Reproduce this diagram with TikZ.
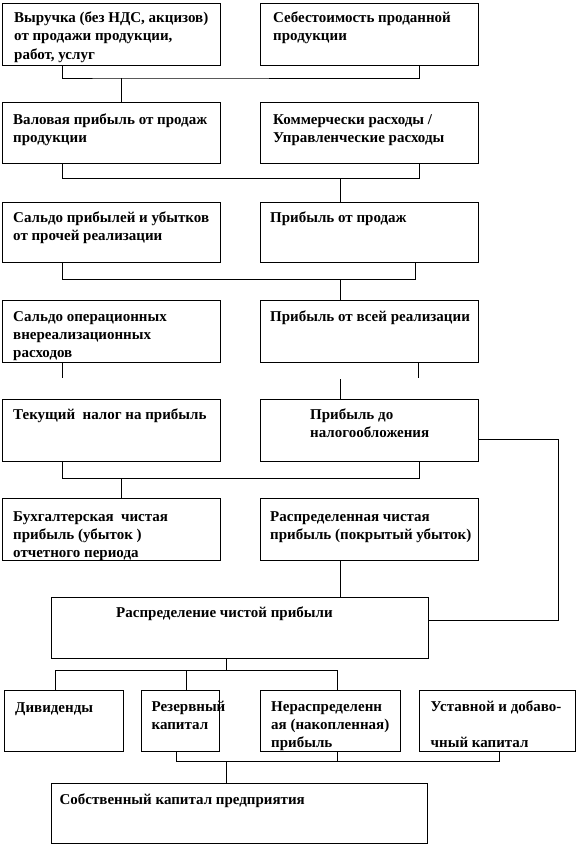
\documentclass[tikz,border=0pt]{standalone}
\usepackage{fontspec}
\setmainfont{Liberation Serif}
\begin{document}
\begin{tikzpicture}[x=1pt,y=-1pt,
  box/.style={draw, line width=1pt, inner sep=0pt, outer sep=0pt, anchor=north west},
  txt/.style={font=\bfseries\fontsize{15}{18.3}\selectfont, inner sep=0pt, anchor=base west, align=left},
  conn/.style={line width=1pt}]
\useasboundingbox (0,0) rectangle (582,846);
% boxes
\node[box, minimum width=218pt, minimum height=62pt] (A) at (2,3) {};
\node[box, minimum width=218pt, minimum height=62pt] (B) at (260.5,3) {};
\node[box, minimum width=218pt, minimum height=61pt] (C) at (2,102) {};
\node[box, minimum width=218pt, minimum height=61pt] (D) at (260.5,102) {};
\node[box, minimum width=218pt, minimum height=60pt] (E) at (2,202) {};
\node[box, minimum width=218pt, minimum height=60pt] (F) at (260.5,202) {};
\node[box, minimum width=218pt, minimum height=62pt] (G) at (2,300) {};
\node[box, minimum width=218pt, minimum height=62pt] (H) at (260.5,300) {};
\node[box, minimum width=218pt, minimum height=62pt] (I) at (2,399) {};
\node[box, minimum width=218pt, minimum height=62pt] (J) at (260.5,399) {};
\node[box, minimum width=218pt, minimum height=62pt] (L) at (2,498) {};
\node[box, minimum width=218pt, minimum height=62pt] (M) at (260.5,498) {};
\node[box, minimum width=377pt, minimum height=61pt] (K) at (51,597) {};
\node[box, minimum width=118.5pt, minimum height=61pt] (N) at (4.5,690) {};
\node[box, minimum width=78pt, minimum height=61pt] (O) at (141,690) {};
\node[box, minimum width=139.5pt, minimum height=61pt] (P) at (260.5,690) {};
\node[box, minimum width=156pt, minimum height=61pt] (Q) at (419.5,690) {};
\node[box, minimum width=376pt, minimum height=60pt] (R) at (51,783) {};
% texts (base anchor = baseline of the last line)
\node[txt] (tA) at ([xshift=12pt,yshift=-56.1pt]A.north west) {Выручка (без НДС, акцизов)\\от продажи продукции,\\работ, услуг};
\node[txt] (tB) at ([xshift=12.5pt,yshift=-37.8pt]B.north west) {Себестоимость проданной\\продукции};
\node[txt] (tC) at ([xshift=11pt,yshift=-40.8pt]C.north west) {Валовая прибыль от продаж\\продукции};
\node[txt] (tD) at ([xshift=12.5pt,yshift=-40.8pt]D.north west) {Коммерчески расходы /\\Управленческие расходы};
\node[txt] (tE) at ([xshift=11pt,yshift=-38.8pt]E.north west) {Сальдо прибылей и убытков\\от прочей реализации};
\node[txt] (tF) at ([xshift=9.5pt,yshift=-20.5pt]F.north west) {Прибыль от продаж};
\node[txt] (tG) at ([xshift=11pt,yshift=-57.8pt]G.north west) {Сальдо операционных\\внереализационных\\расходов};
\node[txt] (tH) at ([xshift=9.5pt,yshift=-21.2pt]H.north west) {Прибыль от всей реализации};
\node[txt] (tI) at ([xshift=11pt,yshift=-20.5pt]I.north west) {Текущий\ \ налог на прибыль};
\node[txt] (tJ) at ([xshift=49.5pt,yshift=-38.8pt]J.north west) {Прибыль до\\налогообложения};
\node[txt] (tL) at ([xshift=11pt,yshift=-59.8pt]L.north west) {Бухгалтерская\ \ чистая\\прибыль (убыток )\\отчетного периода};
\node[txt] (tM) at ([xshift=9.5pt,yshift=-41.5pt]M.north west) {Распределенная чистая\\прибыль (покрытый убыток)};
\node[txt] (tK) at ([xshift=65pt,yshift=-20.5pt]K.north west) {Распределение чистой прибыли};
\node[txt] (tN) at ([xshift=10.5pt,yshift=-22.5pt]N.north west) {Дивиденды};
\node[txt] (tO) at ([xshift=10.4pt,yshift=-39.5pt]O.north west) {Резервный\\капитал};
\node[txt] (tP) at ([xshift=10.5pt,yshift=-57.8pt]P.north west) {Нераспределенн\\ая (накопленная)\\прибыль};
\node[txt] (tQ) at ([xshift=11pt,yshift=-57.8pt]Q.north west) {Уставной и добаво-\\[18.3pt]чный капитал};
\node[txt] (tR) at ([xshift=8.4pt,yshift=-21.5pt]R.north west) {Собственный капитал предприятия};
% connectors
\coordinate (j1) at (121.7,78);
\draw[conn] ([xshift=60pt]A.south west) |- (j1) -| ([xshift=158.5pt]B.south west);
\draw[conn] (j1) -- (j1 |- C.north);
\coordinate (j2) at (340,178.3);
\draw[conn] ([xshift=60pt]C.south west) |- (j2) -| ([xshift=158.5pt]D.south west);
\draw[conn] (j2) -- (j2 |- F.north);
\coordinate (j3) at (340,279.3);
\draw[conn] ([xshift=60pt]E.south west) |- (j3) -| ([xshift=155.2pt]F.south west);
\draw[conn] (j3) -- (j3 |- H.north);
\coordinate (g4) at (62,378);
\coordinate (h4) at (418.7,378);
\coordinate (j4) at (340,379.3);
\draw[conn] (G.south -| g4) -- (g4);
\draw[conn] (H.south -| h4) -- (h4);
\draw[conn] (j4) -- (j4 |- J.north);
\coordinate (j5) at (121.7,478.3);
\draw[conn] ([xshift=60pt]I.south west) |- (j5) -| ([xshift=158.9pt]J.south west);
\draw[conn] (j5) -- (j5 |- L.north);
\coordinate (r6) at (558.6,439.3);
\coordinate (r7) at (558.6,620);
\draw[conn] (r6 -| J.east) -- (r6) -- (r7) -- (r7 -| K.east);
\coordinate (x340) at (340,0);
\draw[conn] (M.south -| x340) -- (K.north -| x340);
\coordinate (k8) at (226.4,670.7);
\coordinate (d1) at (55.7,670.7);
\coordinate (d2) at (186.3,670.7);
\coordinate (d3) at (337,670.7);
\draw[conn] (K.south -| k8) -- (k8);
\draw[conn] (N.north -| d1) -- (d1) -- (d3) -- (P.north -| d3);
\draw[conn] (d2) -- (O.north -| d2);
\coordinate (e1) at (176.3,761.7);
\coordinate (e2) at (337,761.7);
\coordinate (e3) at (499.3,761.7);
\coordinate (e4) at (226.4,761.7);
\draw[conn] (O.south -| e1) -- (e1) -- (e3) -- (Q.south -| e3);
\draw[conn] (P.south -| e2) -- (e2);
\draw[conn] (e4) -- (R.north -| e4);
\end{tikzpicture}
\end{document}
